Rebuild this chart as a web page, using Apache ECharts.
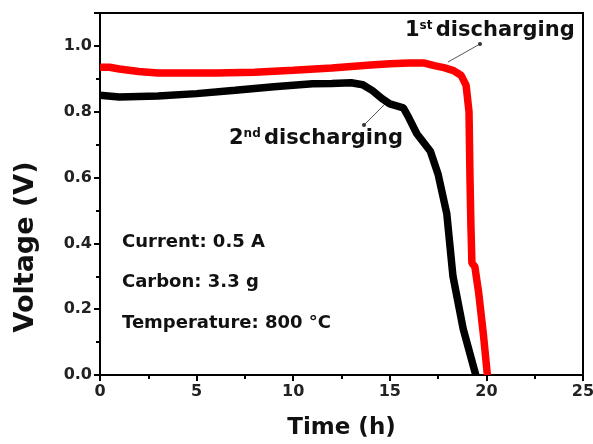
<!DOCTYPE html>
<html>
<head>
<meta charset="utf-8">
<script src="https://cdn.jsdelivr.net/npm/echarts@6/dist/echarts.min.js"></script>
<style>
  html, body { margin: 0; padding: 0; background: #fff; }
  #chart { width: 593px; height: 444px; }
</style>
</head>
<body>
<div id="chart"></div>
<script>
// 1st discharging (red)
var time1 = [0, 0.5, 1, 2, 3, 4, 6, 8, 10, 12, 14, 15, 16, 16.8, 17.3, 17.8, 18.3, 18.7, 18.95, 19.1, 19.15, 19.2, 19.25, 19.4, 19.6, 19.85, 20.05];
var volt1 = [0.935, 0.935, 0.93, 0.922, 0.918, 0.918, 0.918, 0.92, 0.926, 0.933, 0.942, 0.946, 0.948, 0.948, 0.94, 0.934, 0.925, 0.91, 0.88, 0.8, 0.6, 0.45, 0.34, 0.33, 0.25, 0.12, 0.0];

// 2nd discharging (black)
var time2 = [0, 1, 3, 5, 7, 9, 11, 12, 13, 13.6, 14.1, 14.6, 15.0, 15.7, 16.0, 16.4, 17.1, 17.5, 17.95, 18.27, 18.8, 19.45];
var volt2 = [0.85, 0.845, 0.848, 0.855, 0.865, 0.876, 0.885, 0.886, 0.888, 0.882, 0.864, 0.84, 0.824, 0.812, 0.78, 0.733, 0.68, 0.61, 0.49, 0.3, 0.14, 0.0];

var notes = ['Current: 0.5 A', 'Carbon: 3.3 g', 'Temperature: 800 \u00b0C'];

function pairs(xs, ys) {
    return xs.map(function (x, i) { return [x, ys[i]]; });
}

var FONT = 'DejaVu Sans';
var chart = echarts.init(document.getElementById('chart'));

var supRich = {
    n: { fontFamily: FONT, fontWeight: 'bold', fontSize: 21, fill: '#111' },
    s: { fontFamily: FONT, fontWeight: 'bold', fontSize: 12, fill: '#111', padding: [0, 0, 10, 0] }
};

var option = {
    animation: false,
    grid: {
        left: 100, right: 10, top: 13, bottom: 69,
        outerBoundsMode: 'none',
        show: true, borderColor: '#000', borderWidth: 2
    },
    xAxis: {
        type: 'value', min: 0, max: 25, interval: 5,
        name: 'Time (h)', nameLocation: 'middle', nameGap: 42,
        nameTextStyle: { fontFamily: FONT, fontWeight: 'bold', fontSize: 23, color: '#111' },
        axisLine: { lineStyle: { color: '#000', width: 2 } },
        axisTick: { length: 6, lineStyle: { color: '#000', width: 2 } },
        minorTick: { show: true, splitNumber: 2, length: 4, lineStyle: { color: '#000', width: 2 } },
        splitLine: { show: false },
        axisLabel: { fontFamily: FONT, fontWeight: 'bold', fontSize: 16, color: '#222', margin: 9 }
    },
    yAxis: {
        type: 'value', min: 0, max: 1.1, interval: 0.2,
        axisLine: { show: true, lineStyle: { color: '#000', width: 2 } },
        axisTick: { length: 6, lineStyle: { color: '#000', width: 2 } },
        minorTick: { show: true, splitNumber: 2, length: 4, lineStyle: { color: '#000', width: 2 } },
        splitLine: { show: false },
        axisLabel: {
            fontFamily: FONT, fontWeight: 'bold', fontSize: 16, color: '#222', margin: 8,
            showMaxLabel: false,
            formatter: function (v) { return v.toFixed(1); }
        }
    },
    series: [{
        type: 'line', data: pairs(time2, volt2), showSymbol: false,
        lineStyle: { color: '#000', width: 7.5 }, z: 2
    }, {
        type: 'line', data: pairs(time1, volt1), showSymbol: false,
        lineStyle: { color: '#ff0000', width: 7.5 }, z: 3
    }],
    graphic: [
        {
            type: 'text', x: 26, y: 247, rotation: Math.PI / 2,
            style: { text: 'Voltage (V)', fontFamily: FONT, fontWeight: 'bold', fontSize: 27, fill: '#111', align: 'center', verticalAlign: 'middle' }
        },
        {
            type: 'text', x: 122, y: 242,
            style: { text: notes[0], fontFamily: FONT, fontWeight: 'bold', fontSize: 18, fill: '#111', verticalAlign: 'middle' }
        },
        {
            type: 'text', x: 122, y: 282,
            style: { text: notes[1], fontFamily: FONT, fontWeight: 'bold', fontSize: 18, fill: '#111', verticalAlign: 'middle' }
        },
        {
            type: 'text', x: 122, y: 323,
            style: { text: notes[2], fontFamily: FONT, fontWeight: 'bold', fontSize: 18, fill: '#111', verticalAlign: 'middle' }
        },
        {
            type: 'text', x: 405, y: 31,
            style: { text: '{n|1}{s|st} {n|discharging}', verticalAlign: 'middle', rich: supRich }
        },
        {
            type: 'text', x: 229, y: 139,
            style: { text: '{n|2}{s|nd} {n|discharging}', verticalAlign: 'middle', rich: supRich }
        },
        { type: 'line', shape: { x1: 480, y1: 44, x2: 448, y2: 62 }, style: { stroke: '#555', lineWidth: 1 } },
        { type: 'circle', shape: { cx: 480, cy: 44, r: 2 }, style: { fill: '#333' } },
        { type: 'line', shape: { x1: 364, y1: 125, x2: 387, y2: 102 }, style: { stroke: '#555', lineWidth: 1 } },
        { type: 'circle', shape: { cx: 364, cy: 125, r: 2 }, style: { fill: '#333' } }
    ]
};

chart.setOption(option);
</script>
</body>
</html>
